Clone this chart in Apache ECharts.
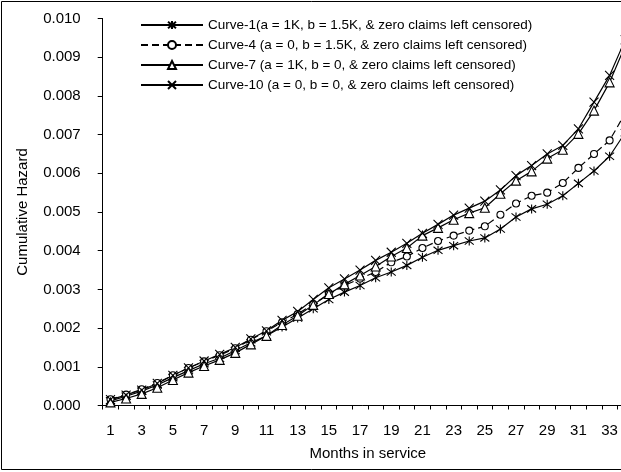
<!DOCTYPE html>
<html lang="en">
<head>
    <meta charset="UTF-8">
    <title>Cumulative Hazard</title>
    <script src="https://cdn.jsdelivr.net/npm/echarts@6/dist/echarts.min.js"></script>
    <style>
        * { margin: 0; padding: 0; }
        body { background: #fff; }
        #chart { width: 621px; height: 472px; }
    </style>
</head>
<body>
    <div id="chart"></div>
    <script>
        // months in service
        const months = [];
        for (let m = 1; m <= 34; m++) months.push(String(m));

        // in units of 0.001
        const curve1 = [0.12, 0.24, 0.37, 0.53, 0.72, 0.90, 1.08, 1.22, 1.42, 1.62, 1.80, 2.03, 2.26, 2.50, 2.74, 2.93, 3.10,
            3.30, 3.45, 3.62, 3.83, 4.01, 4.13, 4.25, 4.33, 4.56, 4.87, 5.08, 5.20, 5.42, 5.74, 6.06, 6.44, 7.05];
        const curve4 = [0.16, 0.28, 0.42, 0.58, 0.78, 0.97, 1.14, 1.30, 1.48, 1.70, 1.92, 2.15, 2.36, 2.62, 2.88, 3.10, 3.28,
            3.45, 3.70, 3.85, 4.07, 4.25, 4.39, 4.52, 4.63, 4.93, 5.22, 5.42, 5.50, 5.75, 6.14, 6.50, 6.85, 7.55];
        const curve7 = [0.08, 0.18, 0.30, 0.46, 0.66, 0.85, 1.02, 1.18, 1.36, 1.58, 1.80, 2.08, 2.32, 2.60, 2.88, 3.13, 3.36,
            3.59, 3.85, 4.07, 4.39, 4.59, 4.80, 4.97, 5.11, 5.47, 5.81, 6.05, 6.38, 6.61, 7.02, 7.62, 8.35, 9.30];
        const curve10 = [0.15, 0.27, 0.40, 0.57, 0.78, 0.97, 1.15, 1.32, 1.50, 1.72, 1.93, 2.20, 2.43, 2.74, 3.04, 3.27, 3.50,
            3.75, 3.96, 4.19, 4.45, 4.68, 4.92, 5.10, 5.28, 5.57, 5.94, 6.20, 6.50, 6.72, 7.15, 7.84, 8.53, 9.45];

        const names = [
            'Curve-1(a = 1K, b = 1.5K, & zero claims left censored)',
            'Curve-4 (a = 0, b = 1.5K, & zero claims left censored)',
            'Curve-7 (a = 1K, b = 0, & zero claims left censored)',
            'Curve-10 (a = 0, b = 0, & zero claims left censored)'
        ];

        const FONT = '"Liberation Sans", Arial, sans-serif';
        const star = 'path://M5,0L5,10M1,1L9,9M9,1L1,9';
        const cross = 'path://M0,0L10,10M10,0L0,10';

        const toVal = arr => arr.map(v => +(v / 1000).toFixed(6));

        function makeSeries(name, data, symbol, size, dashed) {
            return {
                name: name,
                type: 'line',
                data: toVal(data),
                symbol: symbol,
                symbolSize: size,
                showAllSymbol: true,
                lineStyle: { color: '#000', width: 1.2, type: dashed ? [7, 4] : 'solid' },
                itemStyle: { color: symbol.startsWith('path') ? 'none' : '#fff', borderColor: '#000', borderWidth: 1.1 },
                emphasis: { disabled: true },
                animation: false
            };
        }

        const chart = echarts.init(document.getElementById('chart'), null, { renderer: 'canvas' });

        chart.setOption({
            animation: false,
            backgroundColor: '#fff',
            textStyle: { fontFamily: FONT, color: '#000' },
            graphic: [{
                type: 'rect',
                shape: { x: 1.5, y: 1.5, width: 700, height: 468 },
                style: { fill: 'none', stroke: '#000', lineWidth: 1 },
                silent: true
            }],
            grid: { left: 102.7, right: -12, top: 18.5, bottom: 66.5, outerBoundsMode: 'none' },
            legend: {
                orient: 'vertical',
                left: 135,
                top: 13,
                itemWidth: 62,
                itemHeight: 10,
                itemGap: 6,
                data: names,
                textStyle: { fontFamily: FONT, fontSize: 13.5, color: '#000' }
            },
            xAxis: {
                type: 'category',
                data: months,
                name: 'Months in service',
                nameLocation: 'middle',
                nameGap: 41,
                nameTextStyle: { fontFamily: FONT, fontSize: 15, color: '#000' },
                axisLine: { lineStyle: { color: '#000', width: 1 } },
                axisTick: { show: true, inside: false, length: 4, alignWithLabel: false, interval: 0, lineStyle: { color: '#000' } },
                axisLabel: { interval: 1, margin: 18, fontFamily: FONT, fontSize: 15, color: '#000' },
                splitLine: { show: false }
            },
            yAxis: {
                type: 'value',
                min: 0,
                max: 0.010,
                interval: 0.001,
                name: 'Cumulative Hazard',
                nameLocation: 'middle',
                nameGap: 72,
                nameTextStyle: { fontFamily: FONT, fontSize: 15, color: '#000' },
                axisLine: { show: true, lineStyle: { color: '#000', width: 1 } },
                axisTick: { show: true, length: 5, lineStyle: { color: '#000' } },
                axisLabel: { margin: 22, fontFamily: FONT, fontSize: 15, color: '#000', formatter: v => v.toFixed(3) },
                splitLine: { show: false }
            },
            series: [
                makeSeries(names[0], curve1, star, 9, false),
                makeSeries(names[1], curve4, 'circle', 7, true),
                makeSeries(names[2], curve7, 'triangle', 9, false),
                makeSeries(names[3], curve10, cross, 9, false)
            ]
        });
    </script>
</body>
</html>
